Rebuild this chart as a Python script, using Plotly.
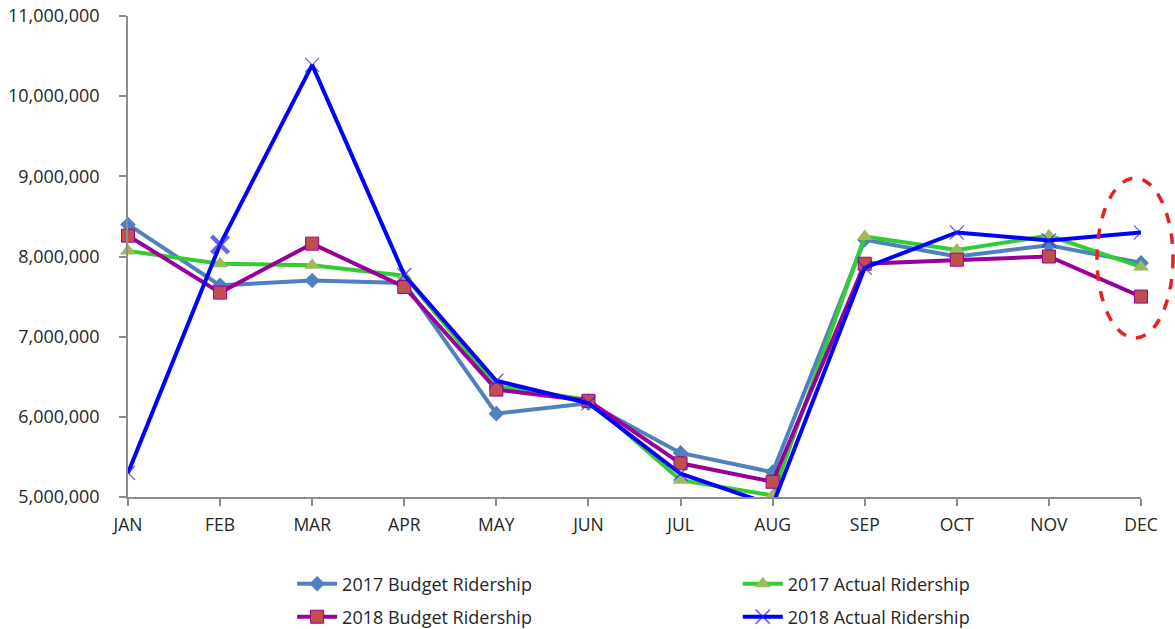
import plotly.graph_objects as go

months = ["JAN", "FEB", "MAR", "APR", "MAY", "JUN", "JUL", "AUG", "SEP", "OCT", "NOV", "DEC"]

budget_2017 = [8400000, 7640000, 7700000, 7670000, 6040000, 6170000, 5550000, 5310000, 8210000, 8000000, 8140000, 7920000]
actual_2017 = [8070000, 7910000, 7890000, 7760000, 6380000, 6210000, 5210000, 5020000, 8250000, 8080000, 8260000, 7870000]
budget_2018 = [8260000, 7550000, 8160000, 7620000, 6340000, 6200000, 5420000, 5190000, 7910000, 7960000, 8000000, 7500000]
actual_2018 = [5300000, 8150000, 10390000, 7770000, 6450000, 6170000, 5290000, 4900000, 7860000, 8300000, 8200000, 8300000]

FONT = "Open Sans"
TXT = "#262626"

fig = go.Figure()

fig.add_trace(go.Scatter(
    x=months, y=budget_2017, name="2017 Budget Ridership", mode="lines+markers",
    line=dict(color="#4F81BD", width=4),
    marker=dict(symbol="diamond", size=12, color="#4F81BD"),
    cliponaxis=False, legend="legend"))

fig.add_trace(go.Scatter(
    x=months, y=actual_2017, name="2017 Actual Ridership", mode="lines+markers",
    line=dict(color="#33CC33", width=4),
    marker=dict(symbol="triangle-up", size=14, color="#9BBB59", line=dict(color="#9BBB59", width=0)),
    cliponaxis=False, legend="legend2"))

fig.add_trace(go.Scatter(
    x=months, y=budget_2018, name="2018 Budget Ridership", mode="lines+markers",
    line=dict(color="#990099", width=4),
    marker=dict(symbol="square", size=13, color="#C0504D", line=dict(color="#990099", width=1)),
    cliponaxis=False, legend="legend3"))

x_sizes = [14] * len(months)
x_widths = [1.3] * len(months)
x_sizes[1] = 17
x_widths[1] = 4.5
fig.add_trace(go.Scatter(
    x=months, y=actual_2018, name="2018 Actual Ridership", mode="lines+markers",
    line=dict(color="#0000FF", width=4),
    marker=dict(symbol="x-thin", size=x_sizes, color="#2424F0", line=dict(color="#2424F0", width=x_widths)),
    cliponaxis=True, legend="legend4"))

# red dashed ellipse around DEC
fig.add_shape(type="circle", xref="paper", yref="paper",
              x0=0.9566, x1=1.0316, y0=0.3306, y1=0.663,
              line=dict(color="#E8211E", width=3.5, dash="dash"))

legend_common = dict(orientation="h", xanchor="left", yanchor="middle",
                     font=dict(family=FONT, size=18, color=TXT),
                     bgcolor="rgba(0,0,0,0)", itemwidth=40)

col1, col2 = 0.162, 0.602
row1, row2 = -0.181, -0.2495

fig.update_layout(
    width=1175, height=629,
    margin=dict(l=128, r=34, t=16, b=132, autoexpand=False),
    paper_bgcolor="white", plot_bgcolor="white",
    font=dict(family=FONT, color=TXT),
    showlegend=True,
    legend=dict(x=col1, y=row1, **legend_common),
    legend2=dict(x=col2, y=row1, **legend_common),
    legend3=dict(x=col1, y=row2, **legend_common),
    legend4=dict(x=col2, y=row2, **legend_common),
    xaxis=dict(
        type="category", range=[0, 11], showgrid=False, zeroline=False,
        showline=True, linecolor="#8C8C8C", linewidth=1.5,
        ticks="outside", ticklen=7, tickcolor="#8C8C8C", tickwidth=1.5,
        tickfont=dict(family=FONT, size=17.5, color=TXT),
        ticklabelstandoff=4, automargin=False,
    ),
    yaxis=dict(
        range=[5000000, 11000000], dtick=1000000, tickformat=",",
        showgrid=False, zeroline=False,
        showline=True, linecolor="#8C8C8C", linewidth=1.5,
        ticks="outside", ticklen=7, tickcolor="#8C8C8C", tickwidth=1.5,
        tickfont=dict(family=FONT, size=18, color=TXT),
        ticklabelstandoff=16, automargin=False,
    ),
)

fig.write_html("out.html", config={"displayModeBar": False},
               post_script="document.body.style.margin='0';")
